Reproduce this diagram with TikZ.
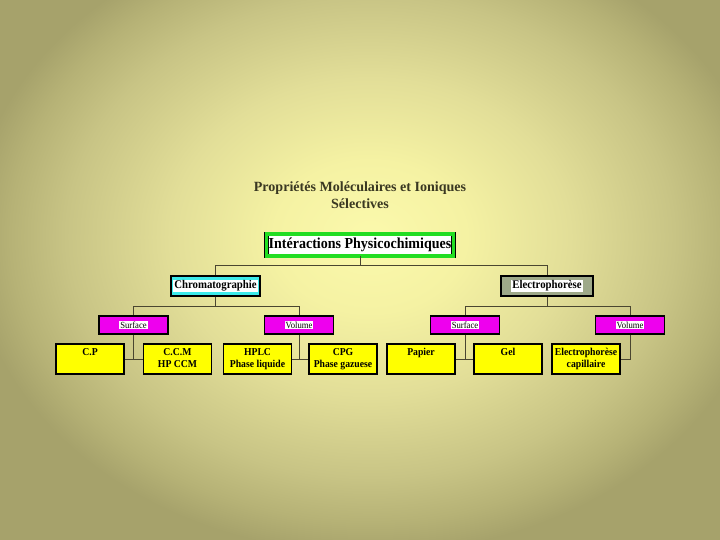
\documentclass[tikz,border=0pt]{standalone}
\usepackage{fontspec}
\setmainfont{Liberation Serif}
\newfontfamily\narrowserif[FakeStretch=0.92]{Liberation Serif}
\usepackage{tikz}
\usetikzlibrary{positioning}
\definecolor{BgLight}{HTML}{FBF9AC}
\definecolor{BgSoft}{HTML}{F5F2A3}
\definecolor{BgMid}{HTML}{E2DE98}
\definecolor{BgDark}{HTML}{C8C485}
\definecolor{BgDeep}{HTML}{B6B276}
\definecolor{BgEdge}{HTML}{A6A26B}
\definecolor{TitleInk}{HTML}{3A3822}
\definecolor{LineInk}{HTML}{4A4630}
\definecolor{BoxGreen}{HTML}{22DD22}
\definecolor{BoxCyan}{HTML}{3CEAEA}
\definecolor{BoxGrey}{HTML}{9EA989}
\definecolor{BoxMagenta}{HTML}{EE00EE}
\definecolor{BoxYellow}{HTML}{FFFF00}
\pgfdeclareradialshading{bggrad}{\pgfpoint{0bp}{0bp}}{%
  color(0bp)=(BgLight); color(6bp)=(BgSoft); color(12.5bp)=(BgMid);
  color(19bp)=(BgDark); color(22.5bp)=(BgDeep); color(25bp)=(BgEdge);
  color(50bp)=(BgEdge)}
\newcommand{\onwhite}[1]{{\setlength{\fboxsep}{0.9pt}\colorbox{white}{#1}}}
\newcommand{\leaftop}[1]{\parbox[c][0.64cm][t]{1.95cm}{\centering #1}}

\begin{document}
\begin{tikzpicture}[
  x=1cm,y=1cm,
  branch/.style={
    draw=LineInk,
    line width=0.6pt
  },
  headline/.style={
    align=center,
    font=\bfseries\fontsize{12}{14.5}\selectfont,
    text=TitleInk
  },
  rootbox/.style={
    draw=black,
    line width=0.6pt,
    double=BoxGreen,
    double distance=3pt,
    fill=white,
    minimum width=5.6cm,
    minimum height=0.66cm,
    inner sep=1pt,
    font=\narrowserif\bfseries\fontsize{13}{15}\selectfont
  },
  familybox/.style={
    draw=black,
    line width=1pt,
    minimum height=0.6cm,
    inner sep=1pt,
    font=\narrowserif\bfseries\fontsize{10}{12}\selectfont
  },
  modebox/.style={
    draw=black,
    line width=1pt,
    fill=BoxMagenta,
    minimum width=2.07cm,
    minimum height=0.54cm,
    inner sep=1pt,
    font=\narrowserif\fontsize{8}{9.5}\selectfont
  },
  leaf/.style={
    draw=black,
    line width=0.9pt,
    fill=BoxYellow,
    minimum width=2.04cm,
    minimum height=0.9cm,
    inner sep=0pt,
    font=\narrowserif\bfseries\fontsize{9}{10.5}\selectfont
  }
]

% -------------------------------------------------
% Background
% -------------------------------------------------
\useasboundingbox (0,0) rectangle (21.6,16.2);
\begin{scope}
  \clip (0,0) rectangle (21.6,16.2);
  \shade[shading=bggrad] (-0.9,-0.4) rectangle (23.1,18.6);
\end{scope}

% -------------------------------------------------
% Title and root
% -------------------------------------------------
\node[headline] (title) at (10.8,10.35)
{Propriétés Moléculaires et Ioniques\\Sélectives};

\node[rootbox] (inter) at (10.8,8.85) {Intéractions Physicochimiques};

% -------------------------------------------------
% Families
% -------------------------------------------------
\node[familybox, fill=BoxCyan, minimum width=2.67cm] (chrom) at (6.465,7.62)
{\onwhite{Chromatographie}};
\node[familybox, fill=BoxGrey, minimum width=2.76cm] (elec) at (16.41,7.62)
{\onwhite{Electrophorèse}};

\draw[branch] (inter.south) -- ++(0,-0.27) -| (chrom.north);
\draw[branch] (inter.south) -- ++(0,-0.27) -| (elec.north);

% -------------------------------------------------
% Surface / Volume
% -------------------------------------------------
\node[modebox] (surf1) at (4.005,6.45) {\onwhite{Surface}};
\node[modebox] (vol1)  at (8.97,6.45)  {\onwhite{Volume}};
\node[modebox] (surf2) at (13.95,6.45) {\onwhite{Surface}};
\node[modebox] (vol2)  at (18.9,6.45)  {\onwhite{Volume}};

\draw[branch] (chrom.south) -- ++(0,-0.3) -| (surf1.north);
\draw[branch] (chrom.south) -- ++(0,-0.3) -| (vol1.north);
\draw[branch] (elec.south) -- ++(0,-0.3) -| (surf2.north);
\draw[branch] (elec.south) -- ++(0,-0.3) -| (vol2.north);

% -------------------------------------------------
% Techniques
% -------------------------------------------------
\node[leaf] (cp)     at (2.70,5.43)  {\leaftop{C.P}};
\node[leaf] (ccm)    at (5.325,5.43) {\leaftop{C.C.M\\HP CCM}};
\node[leaf] (hplc)   at (7.725,5.43) {\leaftop{HPLC\\Phase liquide}};
\node[leaf] (cpg)    at (10.29,5.43) {\leaftop{CPG\\Phase gazuese}};
\node[leaf] (papier) at (12.63,5.43) {\leaftop{Papier}};
\node[leaf] (gel)    at (15.24,5.43) {\leaftop{Gel}};
\node[leaf] (ecap)   at (17.58,5.43) {\leaftop{Electrophorèse\\capillaire}};

\draw[branch] (surf1.south) -- (surf1.south |- cp.east);
\draw[branch] (cp.east) -- (ccm.west);
\draw[branch] (vol1.south) -- (vol1.south |- hplc.east);
\draw[branch] (hplc.east) -- (cpg.west);
\draw[branch] (surf2.south) -- (surf2.south |- papier.east);
\draw[branch] (papier.east) -- (gel.west);
\draw[branch] (vol2.south) |- (ecap.east);

\end{tikzpicture}
\end{document}
